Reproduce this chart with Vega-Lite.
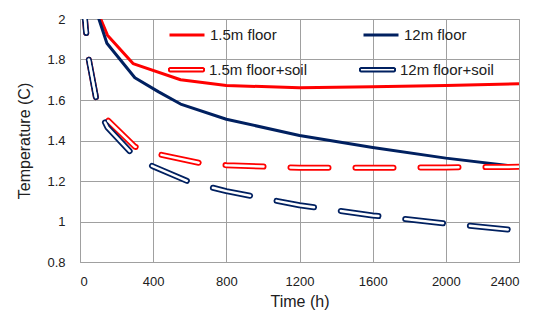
{
  "$schema": "https://vega.github.io/schema/vega-lite/v6.json",
  "width": 439,
  "height": 243,
  "autosize": "none",
  "padding": {"left": 80, "top": 19, "right": 31, "bottom": 58},
  "background": "white",
  "config": {
    "font": "Liberation Sans",
    "view": {"stroke": "#a0a0a0", "strokeWidth": 1},
    "axis": {"gridColor": "#a0a0a0", "gridWidth": 1, "domain": false, "ticks": false, "labelColor": "#202020", "titleColor": "#202020", "labelFontSize": 13, "titleFontSize": 16, "titleFontWeight": "normal"}
  },
  "datasets": {
    "pts": [
      {"series": "1.5m floor", "t": 90, "T": 2.05},
      {"series": "1.5m floor", "t": 150, "T": 1.92},
      {"series": "1.5m floor", "t": 290, "T": 1.78},
      {"series": "1.5m floor", "t": 550, "T": 1.70},
      {"series": "1.5m floor", "t": 800, "T": 1.672},
      {"series": "1.5m floor", "t": 1200, "T": 1.66},
      {"series": "1.5m floor", "t": 1600, "T": 1.665},
      {"series": "1.5m floor", "t": 2000, "T": 1.672},
      {"series": "1.5m floor", "t": 2400, "T": 1.68},
      {"series": "12m floor", "t": 85, "T": 2.05},
      {"series": "12m floor", "t": 147, "T": 1.88},
      {"series": "12m floor", "t": 300, "T": 1.71},
      {"series": "12m floor", "t": 430, "T": 1.64},
      {"series": "12m floor", "t": 550, "T": 1.58},
      {"series": "12m floor", "t": 800, "T": 1.505},
      {"series": "12m floor", "t": 1200, "T": 1.425},
      {"series": "12m floor", "t": 1600, "T": 1.365},
      {"series": "12m floor", "t": 2000, "T": 1.313},
      {"series": "12m floor", "t": 2400, "T": 1.27},
      {"series": "1.5m floor+soil", "t": 27, "T": 2.0},
      {"series": "1.5m floor+soil", "t": 46, "T": 1.81},
      {"series": "1.5m floor+soil", "t": 92, "T": 1.59},
      {"series": "1.5m floor+soil", "t": 140, "T": 1.51},
      {"series": "1.5m floor+soil", "t": 300, "T": 1.37},
      {"series": "1.5m floor+soil", "t": 440, "T": 1.33},
      {"series": "1.5m floor+soil", "t": 650, "T": 1.29},
      {"series": "1.5m floor+soil", "t": 800, "T": 1.278},
      {"series": "1.5m floor+soil", "t": 1200, "T": 1.265},
      {"series": "1.5m floor+soil", "t": 1600, "T": 1.265},
      {"series": "1.5m floor+soil", "t": 2000, "T": 1.267},
      {"series": "1.5m floor+soil", "t": 2400, "T": 1.27},
      {"series": "12m floor+soil", "t": 27, "T": 2.0},
      {"series": "12m floor+soil", "t": 46, "T": 1.81},
      {"series": "12m floor+soil", "t": 92, "T": 1.59},
      {"series": "12m floor+soil", "t": 125, "T": 1.51},
      {"series": "12m floor+soil", "t": 150, "T": 1.465},
      {"series": "12m floor+soil", "t": 300, "T": 1.32},
      {"series": "12m floor+soil", "t": 400, "T": 1.272},
      {"series": "12m floor+soil", "t": 600, "T": 1.195},
      {"series": "12m floor+soil", "t": 800, "T": 1.15},
      {"series": "12m floor+soil", "t": 1200, "T": 1.08},
      {"series": "12m floor+soil", "t": 1600, "T": 1.03},
      {"series": "12m floor+soil", "t": 2000, "T": 0.99},
      {"series": "12m floor+soil", "t": 2400, "T": 0.955}
    ]
  },
  "data": {"name": "pts"},
  "encoding": {
    "x": {"field": "t", "type": "quantitative", "title": "Time (h)",
      "scale": {"domain": [0, 2400], "nice": false},
      "axis": {"values": [0, 400, 800, 1200, 1600, 2000, 2400], "format": "d", "labelPadding": 13, "titlePadding": 5}},
    "y": {"field": "T", "type": "quantitative", "title": "Temperature (C)",
      "scale": {"domain": [0.8, 2], "nice": false, "zero": false},
      "axis": {"values": [0.8, 1, 1.2, 1.4, 1.6, 1.8, 2], "format": ".1~f", "labelPadding": 15, "titlePadding": 14}}
  },
  "layer": [
    {
      "transform": [{"filter": "indexof(datum.series, 'soil') < 0"}],
      "mark": {"type": "line", "clip": true, "strokeWidth": 3, "strokeJoin": "round"},
      "encoding": {
        "color": {"field": "series", "type": "nominal",
          "scale": {"domain": ["1.5m floor", "12m floor"], "range": ["#ff0000", "#002060"]},
          "legend": {"title": null, "orient": "none", "legendX": 88, "legendY": -3, "columns": 2, "columnPadding": 80, "rowPadding": 0, "padding": 0,
            "symbolSize": 1225, "symbolStrokeWidth": 3, "labelFontSize": 15, "labelColor": "#202020", "labelOffset": 4, "labelLimit": 200}
        }
      }
    },
    {
      "transform": [{"filter": "indexof(datum.series, 'soil') >= 0"}],
      "mark": {"type": "line", "clip": true, "strokeWidth": 6, "strokeDash": [38, 27], "strokeDashOffset": 24, "strokeCap": "round", "strokeJoin": "round"},
      "encoding": {
        "detail": {"field": "series"},
        "stroke": {"condition": {"test": "datum.series == '1.5m floor+soil'", "value": "#ff0000"}, "value": "#002060"}
      }
    },
    {
      "transform": [{"filter": "indexof(datum.series, 'soil') >= 0"}],
      "mark": {"type": "line", "clip": true, "strokeWidth": 2.5, "strokeDash": [38, 27], "strokeDashOffset": 24, "strokeCap": "round", "strokeJoin": "round", "color": "white"},
      "encoding": {"detail": {"field": "series"}}
    },
    {
      "transform": [{"filter": "indexof(datum.series, 'soil') >= 0"}],
      "mark": {"type": "line", "clip": true, "opacity": 0, "strokeWidth": 2, "strokeJoin": "round"},
      "encoding": {
        "stroke": {"field": "series", "type": "nominal",
          "scale": {"domain": ["1.5m floor+soil", "12m floor+soil"], "range": ["#ff0000", "#002060"]},
          "legend": {"title": null, "orient": "none", "legendX": 88, "legendY": 32, "columns": 2, "columnPadding": 49, "rowPadding": 0, "padding": 0,
            "symbolType": "M-0.94,-0.1L0.94,-0.1L1,-0.06L1,0.06L0.94,0.1L-0.94,0.1L-1,0.06L-1,-0.06Z",
            "symbolOpacity": 1, "symbolSize": 1225, "symbolStrokeWidth": 2, "symbolFillColor": "white", "labelFontSize": 15, "labelColor": "#202020", "labelOffset": 4, "labelLimit": 200}
        }
      }
    }
  ]
}
